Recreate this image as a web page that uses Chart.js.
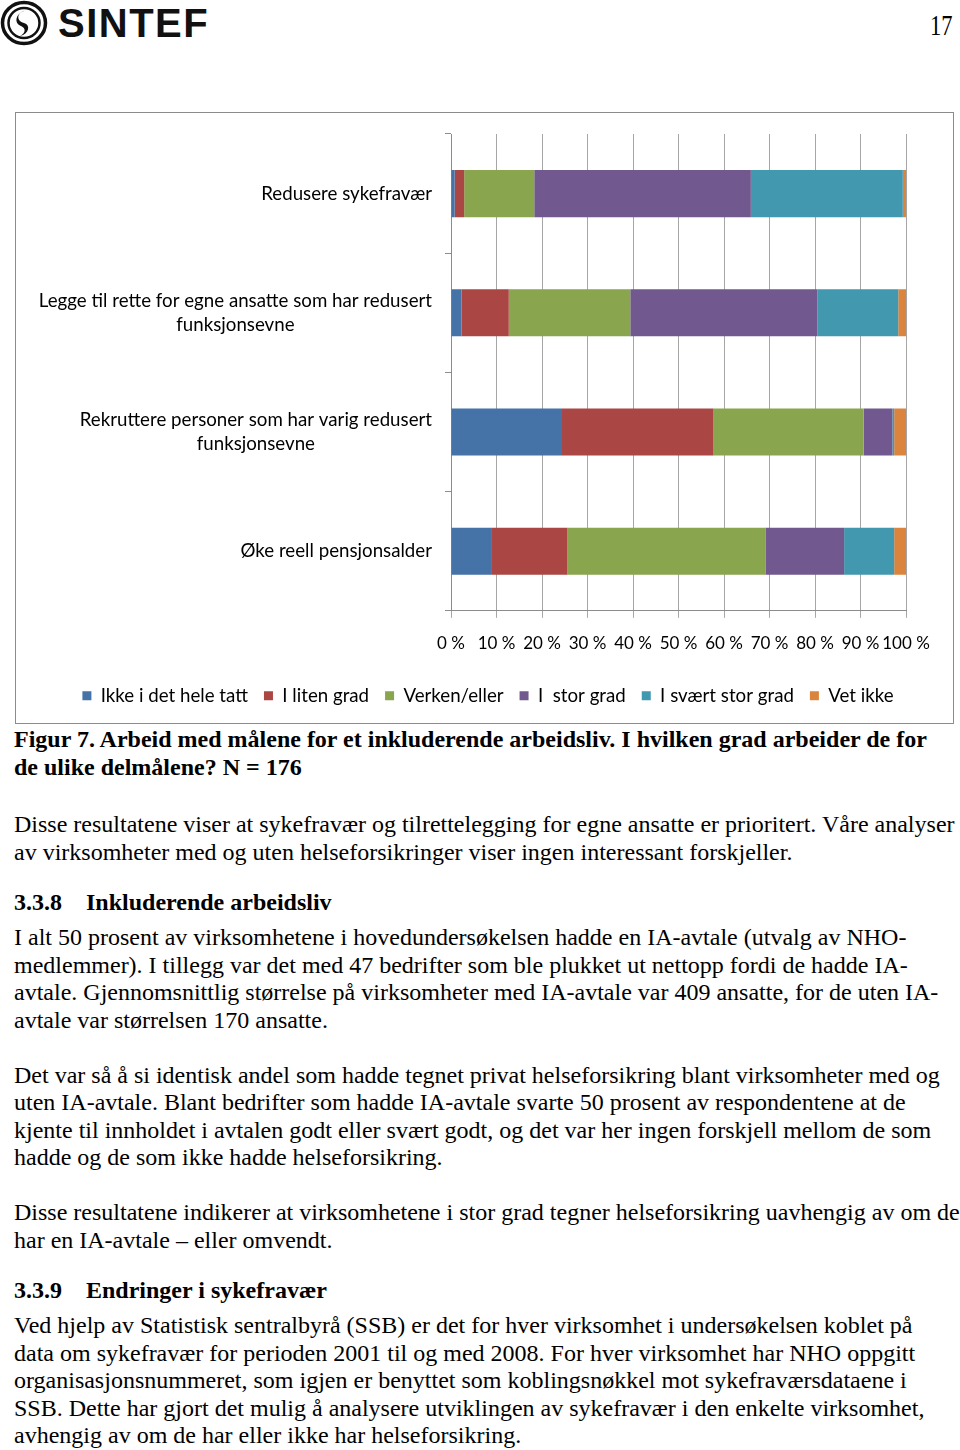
<!DOCTYPE html>
<html><head><meta charset="utf-8">
<script src="https://cdn.jsdelivr.net/npm/chart.js@4.4.1/dist/chart.umd.min.js"></script>
<style>
html,body{margin:0;padding:0;background:#fff;}
body{width:960px;height:1450px;position:relative;overflow:hidden;}
#frame{position:absolute;left:15px;top:112px;width:939px;height:612px;border:1px solid #8c8c8c;box-sizing:border-box;}
#wrap{position:absolute;left:16px;top:113px;width:937px;height:610px;}
.ln{position:absolute;left:14px;font-family:"Liberation Serif","Times New Roman",serif;font-size:24px;line-height:28px;white-space:nowrap;color:#000;}
.b{font-weight:bold;}
#brand{position:absolute;left:58px;top:0px;font-family:"Liberation Sans",Arial,sans-serif;font-weight:bold;font-size:40px;line-height:46px;letter-spacing:1.5px;color:#111;}
#pg{position:absolute;left:930px;top:8px;font-family:"Liberation Serif",serif;font-size:30px;line-height:34px;transform:scaleX(0.75);transform-origin:left top;}
</style></head><body>
<svg style="position:absolute;left:0;top:0" width="50" height="48" viewBox="0 0 50 48">
<ellipse cx="24" cy="23" rx="21.5" ry="20.5" fill="none" stroke="#111" stroke-width="3.5"/>
<ellipse cx="24" cy="23" rx="15.5" ry="15" fill="none" stroke="#111" stroke-width="2.5"/>
<path d="M27 10 C16 12 16 21 24 23 C31 25 29 34 20 36 C26 33 26 28 21 26 C13 23 16 12 27 10 Z" fill="#111"/>
</svg>
<div id="brand">SINTEF</div>
<div id="pg">17</div>
<div id="frame"></div>
<div id="wrap"><canvas id="c"></canvas></div>
<div id="txt"></div>
<script>
// ---- data ----
const categories = [
  ['Redusere sykefravær'],
  ['Legge til rette for egne ansatte som har redusert', 'funksjonsevne'],
  ['Rekruttere personer som har varig redusert', 'funksjonsevne'],
  ['Øke reell pensjonsalder']
];
const seriesNames = ['Ikke i det hele tatt', 'I liten grad', 'Verken/eller', 'I  stor grad', 'I svært stor grad', 'Vet ikke'];
const ikkeIDetHeleTatt = [0.8, 2.3, 24.4, 9.0];
const iLitenGrad       = [2.1, 10.4, 33.3, 16.6];
const verkenEller      = [15.4, 26.7, 33.0, 43.5];
const iStorGrad        = [47.6, 41.1, 6.3, 17.3];
const iSvaertStorGrad  = [33.4, 17.8, 0.4, 11.0];
const vetIkke          = [0.7, 1.7, 2.6, 2.6];
const xTickValues = [0, 10, 20, 30, 40, 50, 60, 70, 80, 90, 100];
const colors = ['#4572A7', '#AA4643', '#89A54E', '#71588F', '#4198AF', '#DB843D'];

// ---- page text ----
const textLines = [
  [747, 'b', 'Figur 7. Arbeid med målene for et inkluderende arbeidsliv. I hvilken grad arbeider de for'],
  [775, 'b', 'de ulike delmålene? N = 176'],
  [832, '', 'Disse resultatene viser at sykefravær og tilrettelegging for egne ansatte er prioritert. Våre analyser'],
  [859.6, '', 'av virksomheter med og uten helseforsikringer viser ingen interessant forskjeller.'],
  [910, 'b', '3.3.8<span style="display:inline-block;width:24px"></span>Inkluderende arbeidsliv'],
  [945, '', 'I alt 50 prosent av virksomhetene i hovedundersøkelsen hadde en IA-avtale (utvalg av NHO-'],
  [972.6, '', 'medlemmer). I tillegg var det med 47 bedrifter som ble plukket ut nettopp fordi de hadde IA-'],
  [1000.2, '', 'avtale. Gjennomsnittlig størrelse på virksomheter med IA-avtale var 409 ansatte, for de uten IA-'],
  [1027.8, '', 'avtale var størrelsen 170 ansatte.'],
  [1082.6, '', 'Det var så å si identisk andel som hadde tegnet privat helseforsikring blant virksomheter med og'],
  [1110.2, '', 'uten IA-avtale. Blant bedrifter som hadde IA-avtale svarte 50 prosent av respondentene at de'],
  [1137.8, '', 'kjente til innholdet i avtalen godt eller svært godt, og det var her ingen forskjell mellom de som'],
  [1165.4, '', 'hadde og de som ikke hadde helseforsikring.'],
  [1220.2, '', 'Disse resultatene indikerer at virksomhetene i stor grad tegner helseforsikring uavhengig av om de'],
  [1247.8, '', 'har en IA-avtale – eller omvendt.'],
  [1298, 'b', '3.3.9<span style="display:inline-block;width:24px"></span>Endringer i sykefravær'],
  [1333, '', 'Ved hjelp av Statistisk sentralbyrå (SSB) er det for hver virksomhet i undersøkelsen koblet på'],
  [1360.6, '', 'data om sykefravær for perioden 2001 til og med 2008. For hver virksomhet har NHO oppgitt'],
  [1388.2, '', 'organisasjonsnummeret, som igjen er benyttet som koblingsnøkkel mot sykefraværsdataene i'],
  [1415.8, '', 'SSB. Dette har gjort det mulig å analysere utviklingen av sykefravær i den enkelte virksomhet,'],
  [1443.4, '', 'avhengig av om de har eller ikke har helseforsikring.']
];
const txt = document.getElementById('txt');
textLines.forEach(([base, cls, html]) => {
  const d = document.createElement('div');
  d.className = 'ln ' + cls;
  d.style.top = (base - 22.1) + 'px';
  d.innerHTML = html;
  txt.appendChild(d);
});

const FONT = 'Lato, "Open Sans", sans-serif';
const LABEL_SIZE = 18.7;
const yLabelPlugin = {
  id: 'yLabels',
  afterDraw(chart) {
    const ctx = chart.ctx, ys = chart.scales.y;
    ctx.save();
    ctx.font = LABEL_SIZE + 'px ' + FONT;
    ctx.fillStyle = '#000';
    ctx.textBaseline = 'middle';
    ctx.textAlign = 'center';
    const right = chart.chartArea.left - 19;
    categories.forEach((lines, i) => {
      const cy = ys.getPixelForValue(i);
      const w = Math.max(...lines.map(l => ctx.measureText(l).width));
      const cx = right - w / 2;
      lines.forEach((l, j) => ctx.fillText(l, cx, cy + (j - (lines.length - 1) / 2) * 24));
    });
    ctx.restore();
  }
};

const seriesData = [ikkeIDetHeleTatt, iLitenGrad, verkenEller, iStorGrad, iSvaertStorGrad, vetIkke];
new Chart(document.getElementById('c'), {
  type: 'bar',
  data: {
    labels: categories.map(c => c.join(' ')),
    datasets: seriesNames.map((n, i) => ({
      label: n, data: seriesData[i], backgroundColor: colors[i], borderWidth: 0,
      categoryPercentage: 1, barPercentage: 0.395
    }))
  },
  options: {
    indexAxis: 'y',
    responsive: true, maintainAspectRatio: false, animation: false,
    layout: { padding: { left: 7, right: 0, top: 21, bottom: 8 } },
    plugins: {
      tooltip: { enabled: false },
      legend: {
        position: 'bottom',
        labels: { font: { family: FONT, size: LABEL_SIZE }, color: '#000', boxWidth: 9, boxHeight: 9, padding: 16 }
      }
    },
    scales: {
      x: {
        stacked: true, min: 0, max: 100,
        afterBuildTicks: s => { s.ticks = xTickValues.map(v => ({ value: v })); },
        afterFit: s => { s.height = 59.5; s.paddingRight = 47; },
        ticks: { callback: v => v + ' %', font: { family: FONT, size: 17 }, color: '#000', padding: 16, maxRotation: 0, autoSkip: false },
        grid: { color: '#a6a6a6', tickLength: 7, lineWidth: 1 },
        border: { color: '#8c8c8c' }
      },
      y: {
        stacked: true,
        afterFit: s => { s.width = 428; },
        ticks: { display: false },
        grid: { drawOnChartArea: false, tickLength: 6, color: '#8c8c8c', offset: true },
        border: { color: '#8c8c8c' }
      }
    }
  },
  plugins: [yLabelPlugin]
});
</script>
</body></html>
